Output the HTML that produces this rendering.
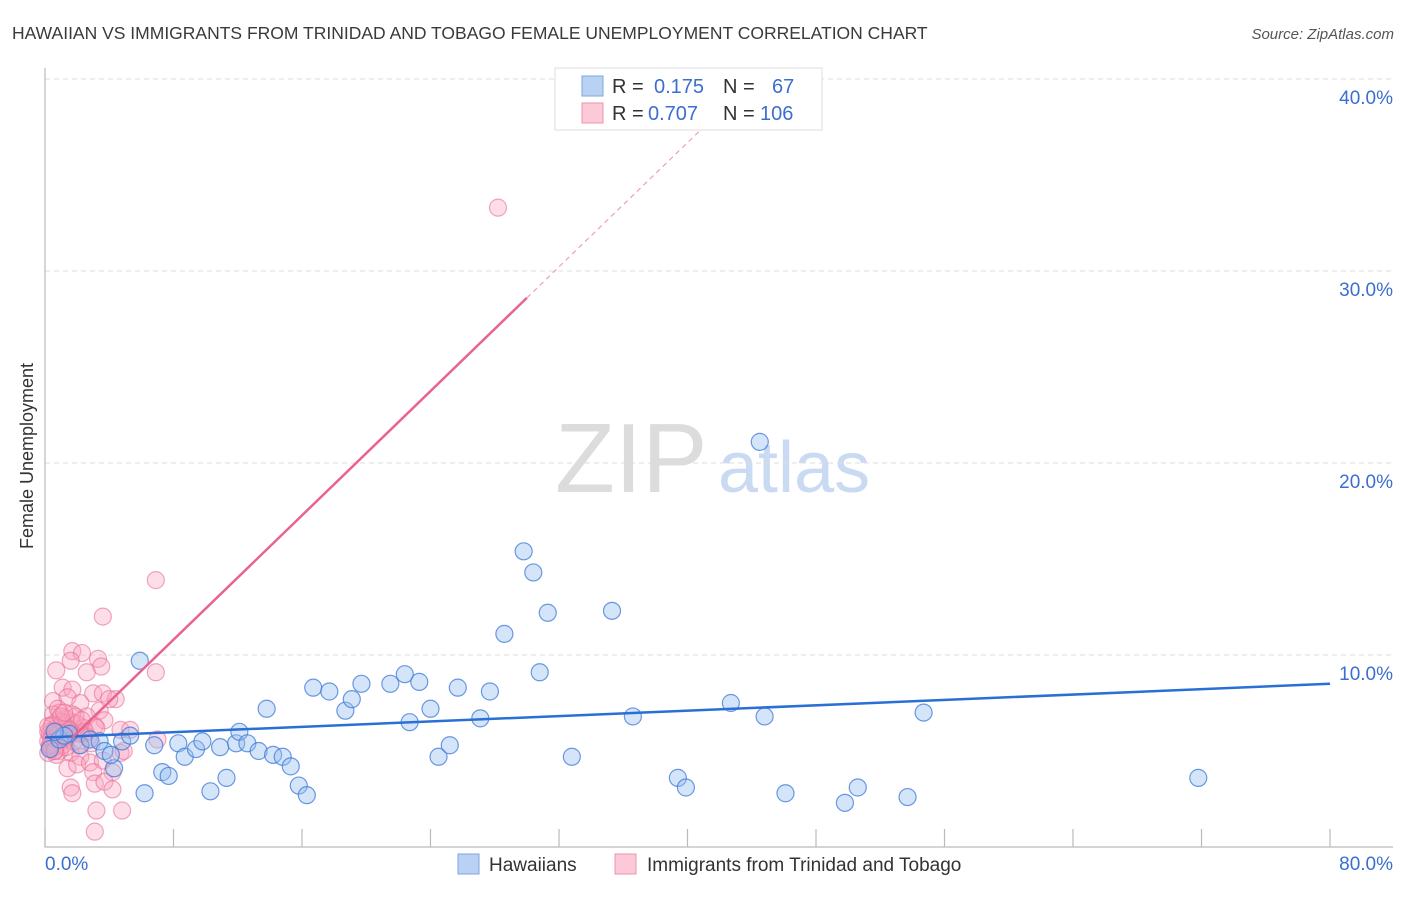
<!DOCTYPE html>
<html><head><meta charset="utf-8"><style>
body{margin:0;background:#fff;font-family:"Liberation Sans",sans-serif}
svg text{font-family:"Liberation Sans",sans-serif}
</style></head><body>
<svg id="chart" width="1406" height="892" xmlns="http://www.w3.org/2000/svg">
<text x="12" y="39" font-size="17.5" fill="#3a3a3a">HAWAIIAN VS IMMIGRANTS FROM TRINIDAD AND TOBAGO FEMALE UNEMPLOYMENT CORRELATION CHART</text>
<text x="1394" y="39" font-size="15" fill="#555" text-anchor="end" font-style="italic">Source: ZipAtlas.com</text>
<text transform="translate(33,456) rotate(-90)" font-size="18" fill="#333" text-anchor="middle">Female Unemployment</text>
<g>
<text x="555" y="492" font-size="98" fill="#dcdcdc" font-family="Liberation Serif,serif">ZIP</text>
<text x="718" y="492" font-size="72" fill="#c9daf2">atlas</text></g>
<g id="grid"></g><g id="axes"></g><g id="marks"></g><g id="lines"></g>
<g>
<rect x="555" y="68" width="267" height="62" fill="#fff" stroke="#ddd"/>
<rect x="582" y="76" width="21" height="20" fill="#b9d2f3" stroke="#7ea6e0"/>
<rect x="582" y="103" width="21" height="20" fill="#fcc9d8" stroke="#ee93ad"/>
<text x="612" y="93" font-size="20" fill="#333">R = <tspan fill="#3a6fd0" x="654">0.175</tspan><tspan fill="#333" x="723">N =</tspan><tspan fill="#3a6fd0" x="772">67</tspan></text>
<text x="612" y="120" font-size="20" fill="#333">R = <tspan fill="#3a6fd0" x="648">0.707</tspan><tspan fill="#333" x="723">N =</tspan><tspan fill="#3a6fd0" x="760">106</tspan></text>
</g>
<g>
<rect x="458" y="854" width="21" height="20" fill="#b9d2f3" stroke="#7ea6e0"/>
<text x="489" y="871" font-size="19" fill="#333">Hawaiians</text>
<rect x="615" y="854" width="21" height="20" fill="#fcc9d8" stroke="#ee93ad"/>
<text x="647" y="871" font-size="19" fill="#333">Immigrants from Trinidad and Tobago</text>
</g>
</svg>
<script>
const blueX=[5.9,6.8,6.2,7.3,7.7,8.3,8.7,9.4,9.8,10.3,10.9,11.3,11.9,12.1,12.6,13.3,13.8,14.2,14.8,15.3,15.8,16.3,16.7,17.7,18.7,19.1,19.7,21.5,22.4,22.7,23.3,24.0,24.5,25.2,25.7,27.1,27.7,28.6,29.8,30.4,30.8,31.3,32.8,35.3,36.6,39.4,39.9,42.7,44.5,44.8,46.1,49.8,50.6,53.7,54.7,71.8,0.3,0.9,1.5,2.2,2.8,3.4,3.7,4.3,4.8,5.3,4.1,1.2,0.6];
const blueY=[9.7,5.3,2.8,3.9,3.7,5.4,4.7,5.1,5.5,2.9,5.2,3.6,5.4,6.0,5.4,5.0,7.2,4.8,4.7,4.2,3.2,2.7,8.3,8.1,7.1,7.7,8.5,8.5,9.0,6.5,8.6,7.2,4.7,5.3,8.3,6.7,8.1,11.1,15.4,14.3,9.1,12.2,4.7,12.3,6.8,3.6,3.1,7.5,21.1,6.8,2.8,2.3,3.1,2.6,7.0,3.6,5.1,5.6,5.9,5.3,5.6,5.5,5.0,4.1,5.5,5.8,4.8,5.8,6.0];
const pinkX=[28.2,6.9,3.6,6.9,1.7,2.3,3.3,3.5,0.7,1.6,2.6,1.1,1.7,3.0,3.6,4.4,0.5,1.4,2.2,3.4,2.6,0.9,1.7,3.7,4.7,5.3,7.0,3.1,2.4,1.6,2.2,1.4,2.0,2.8,3.6,4.7,4.9,4.2,3.0,1.6,1.7,3.1,3.7,4.2,3.2,4.8,3.1,0.9,4.0,
0.2,0.4,0.6,0.8,1.0,1.2,1.4,0.3,0.5,0.7,0.9,1.1,1.3,1.5,1.7,0.2,0.4,0.6,0.8,1.0,1.2,0.3,0.5,0.7,0.9,1.1,1.3,0.2,0.4,0.6,0.8,1.0,1.6,1.8,2.0,2.2,2.4,1.9,2.1,2.5,2.7,0.5,0.7,0.9,1.1,1.3,1.5,0.2,0.4,0.6,2.3,2.9,3.2,0.8,1.0,1.2,0.3,0.6];
const pinkY=[33.3,13.9,12.0,9.1,10.2,10.1,9.8,9.4,9.2,9.7,9.1,8.3,8.2,8.0,8.0,7.7,7.6,7.8,7.5,7.1,6.8,7.0,6.9,6.6,6.1,6.1,5.6,6.3,5.9,4.9,4.7,4.1,4.3,4.4,4.5,4.9,5.0,3.9,3.9,3.1,2.8,3.3,3.4,3.0,1.9,1.9,0.8,5.6,7.7,
5.5,5.8,6.1,5.4,5.9,6.2,5.7,5.2,6.4,5.6,6.0,5.3,6.3,5.8,6.5,6.0,5.1,5.7,6.6,5.5,6.1,5.9,5.4,6.2,5.0,5.8,6.7,6.3,5.6,5.2,6.0,5.7,6.1,5.5,6.4,5.9,6.2,6.8,5.3,6.0,5.7,6.9,4.8,5.9,6.5,5.2,6.1,4.9,6.3,5.0,6.6,5.4,6.2,7.2,6.8,7.0,5.3,5.0];
const yTicks=[10,20,30,40];
const xTickVals=[0,8,16,24,32,40,48,56,64,72,80];
const blueTrend=[0,5.7,80,8.5];
const pinkTrend=[1.7,5.7,30,28.6,41.5,37.9];
const NS='http://www.w3.org/2000/svg';
const X0=45,X1=1330,Y0=847,PY=19.2;
const sx=v=>X0+v*(X1-X0)/80, sy=v=>Y0-v*PY;
function mk(parent,tag,attrs){const e=document.createElementNS(NS,tag);for(const k in attrs)e.setAttribute(k,attrs[k]);document.getElementById(parent).appendChild(e);return e;}
yTicks.forEach(t=>{
 const g=mk('grid','line',{x1:X0,x2:1393,y1:sy(t),y2:sy(t),stroke:'#ddd','stroke-dasharray':'5,4'});
 
 
 const l=mk('axes','text',{x:1393,y:sy(t)+25,'font-size':19,fill:'#3a6fd0','text-anchor':'end'});l.textContent=t.toFixed(1)+'%';
 
 
});
const ax=mk('axes','path',{d:`M${X0},68V${Y0}H1393`,stroke:'#bbb',fill:'none','stroke-width':1.2});


xTickVals.forEach(t=>{
 const tk=mk('axes','line',{x1:sx(t),x2:sx(t),y1:829,y2:Y0,stroke:'#bbb','stroke-width':1.2});
 
 
});
[[0,'start'],[80,'end']].forEach(([t,a])=>{
 const l=mk('axes','text',{x:t===0?45:1393,y:870,'font-size':19,fill:'#3a6fd0','text-anchor':a});l.textContent=t.toFixed(1)+'%';
 
 
});
pinkX.forEach((x,i)=>{
 const c=mk('marks','circle',{cx:sx(x),cy:sy(pinkY[i]),r:8.5,fill:'rgba(248,160,188,0.35)',stroke:'rgba(232,110,150,0.6)','stroke-width':1.2});
 
 
});
blueX.forEach((x,i)=>{
 const c=mk('marks','circle',{cx:sx(x),cy:sy(blueY[i]),r:8.5,fill:'rgba(150,190,240,0.4)',stroke:'rgba(60,120,215,0.75)','stroke-width':1.2});
 
 
});
const bt=mk('lines','line',{x1:sx(blueTrend[0]),y1:sy(blueTrend[1]),x2:sx(blueTrend[2]),y2:sy(blueTrend[3]),stroke:'#2a6fd6','stroke-width':2.5});


const pt=mk('lines','line',{x1:sx(pinkTrend[0]),y1:sy(pinkTrend[1]),x2:sx(pinkTrend[2]),y2:sy(pinkTrend[3]),stroke:'#e8648f','stroke-width':2.5});


const pd=mk('lines','line',{x1:sx(pinkTrend[2]),y1:sy(pinkTrend[3]),x2:sx(pinkTrend[4]),y2:sy(pinkTrend[5]),stroke:'#eba0b8','stroke-width':1.2,'stroke-dasharray':'5,4'});


</script>
</body></html>
